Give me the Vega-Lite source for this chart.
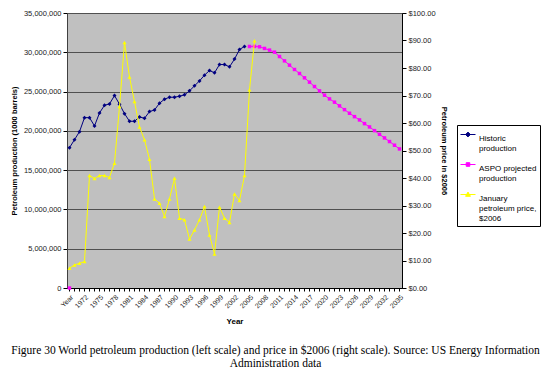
{
  "$schema": "https://vega.github.io/schema/vega-lite/v6.json",
  "width": 335,
  "height": 275,
  "autosize": {"type": "none"},
  "padding": {"left": 67, "top": 13, "right": 148, "bottom": 86},
  "background": "white",
  "config": {
    "font": "Liberation Sans",
    "view": {"fill": "#C0C0C0", "stroke": "#808080", "strokeWidth": 1},
    "axis": {"labelFont": "Liberation Sans", "titleFont": "Liberation Sans", "labelColor": "#222", "titleColor": "#000", "domainColor": "#000", "tickColor": "#000"}
  },
  "title": {
    "text": ["Figure 30 World petroleum production (left scale) and price in $2006 (right scale).  Source: US Energy Information", "Administration data"],
    "orient": "bottom", "anchor": "middle", "font": "Liberation Serif", "fontSize": 11.5, "fontWeight": "normal", "lineHeight": 13, "dx": 41, "offset": 19, "color": "#000"
  },
  "data": {"values": [
    {"cat": "Year", "series": "Historic production", "seg": "h", "v": 17860000},
    {"cat": "1970", "series": "Historic production", "seg": "h", "v": 18880000},
    {"cat": "1971", "series": "Historic production", "seg": "h", "v": 19900000},
    {"cat": "1972", "series": "Historic production", "seg": "h", "v": 21680000},
    {"cat": "1973", "series": "Historic production", "seg": "h", "v": 21680000},
    {"cat": "1974", "series": "Historic production", "seg": "h", "v": 20630000},
    {"cat": "1975", "series": "Historic production", "seg": "h", "v": 22280000},
    {"cat": "1976", "series": "Historic production", "seg": "h", "v": 23260000},
    {"cat": "1977", "series": "Historic production", "seg": "h", "v": 23430000},
    {"cat": "1978", "series": "Historic production", "seg": "h", "v": 24490000},
    {"cat": "1979", "series": "Historic production", "seg": "h", "v": 23390000},
    {"cat": "1980", "series": "Historic production", "seg": "h", "v": 22190000},
    {"cat": "1981", "series": "Historic production", "seg": "h", "v": 21220000},
    {"cat": "1982", "series": "Historic production", "seg": "h", "v": 21220000},
    {"cat": "1983", "series": "Historic production", "seg": "h", "v": 21770000},
    {"cat": "1984", "series": "Historic production", "seg": "h", "v": 21600000},
    {"cat": "1985", "series": "Historic production", "seg": "h", "v": 22450000},
    {"cat": "1986", "series": "Historic production", "seg": "h", "v": 22660000},
    {"cat": "1987", "series": "Historic production", "seg": "h", "v": 23520000},
    {"cat": "1988", "series": "Historic production", "seg": "h", "v": 24030000},
    {"cat": "1989", "series": "Historic production", "seg": "h", "v": 24280000},
    {"cat": "1990", "series": "Historic production", "seg": "h", "v": 24280000},
    {"cat": "1991", "series": "Historic production", "seg": "h", "v": 24410000},
    {"cat": "1992", "series": "Historic production", "seg": "h", "v": 24580000},
    {"cat": "1993", "series": "Historic production", "seg": "h", "v": 25090000},
    {"cat": "1994", "series": "Historic production", "seg": "h", "v": 25730000},
    {"cat": "1995", "series": "Historic production", "seg": "h", "v": 26360000},
    {"cat": "1996", "series": "Historic production", "seg": "h", "v": 27090000},
    {"cat": "1997", "series": "Historic production", "seg": "h", "v": 27680000},
    {"cat": "1998", "series": "Historic production", "seg": "h", "v": 27390000},
    {"cat": "1999", "series": "Historic production", "seg": "h", "v": 28440000},
    {"cat": "2000", "series": "Historic production", "seg": "h", "v": 28440000},
    {"cat": "2001", "series": "Historic production", "seg": "h", "v": 28150000},
    {"cat": "2002", "series": "Historic production", "seg": "h", "v": 29130000},
    {"cat": "2003", "series": "Historic production", "seg": "h", "v": 30360000},
    {"cat": "2004", "series": "Historic production", "seg": "h", "v": 30740000},
    {"cat": "Year", "series": "ASPO projected production", "seg": "p0", "v": 0},
    {"cat": "2005", "series": "ASPO projected production", "seg": "p1", "v": 30740000},
    {"cat": "2006", "series": "ASPO projected production", "seg": "p1", "v": 30750000},
    {"cat": "2007", "series": "ASPO projected production", "seg": "p1", "v": 30700000},
    {"cat": "2008", "series": "ASPO projected production", "seg": "p1", "v": 30490000},
    {"cat": "2009", "series": "ASPO projected production", "seg": "p1", "v": 30280000},
    {"cat": "2010", "series": "ASPO projected production", "seg": "p1", "v": 30020000},
    {"cat": "2011", "series": "ASPO projected production", "seg": "p1", "v": 29460000},
    {"cat": "2012", "series": "ASPO projected production", "seg": "p1", "v": 28910000},
    {"cat": "2013", "series": "ASPO projected production", "seg": "p1", "v": 28360000},
    {"cat": "2014", "series": "ASPO projected production", "seg": "p1", "v": 27810000},
    {"cat": "2015", "series": "ASPO projected production", "seg": "p1", "v": 27300000},
    {"cat": "2016", "series": "ASPO projected production", "seg": "p1", "v": 26750000},
    {"cat": "2017", "series": "ASPO projected production", "seg": "p1", "v": 26200000},
    {"cat": "2018", "series": "ASPO projected production", "seg": "p1", "v": 25640000},
    {"cat": "2019", "series": "ASPO projected production", "seg": "p1", "v": 25090000},
    {"cat": "2020", "series": "ASPO projected production", "seg": "p1", "v": 24540000},
    {"cat": "2021", "series": "ASPO projected production", "seg": "p1", "v": 24070000},
    {"cat": "2022", "series": "ASPO projected production", "seg": "p1", "v": 23650000},
    {"cat": "2023", "series": "ASPO projected production", "seg": "p1", "v": 23180000},
    {"cat": "2024", "series": "ASPO projected production", "seg": "p1", "v": 22700000},
    {"cat": "2025", "series": "ASPO projected production", "seg": "p1", "v": 22240000},
    {"cat": "2026", "series": "ASPO projected production", "seg": "p1", "v": 21810000},
    {"cat": "2027", "series": "ASPO projected production", "seg": "p1", "v": 21390000},
    {"cat": "2028", "series": "ASPO projected production", "seg": "p1", "v": 20920000},
    {"cat": "2029", "series": "ASPO projected production", "seg": "p1", "v": 20500000},
    {"cat": "2030", "series": "ASPO projected production", "seg": "p1", "v": 20030000},
    {"cat": "2031", "series": "ASPO projected production", "seg": "p1", "v": 19560000},
    {"cat": "2032", "series": "ASPO projected production", "seg": "p1", "v": 19100000},
    {"cat": "2033", "series": "ASPO projected production", "seg": "p1", "v": 18640000},
    {"cat": "2034", "series": "ASPO projected production", "seg": "p1", "v": 18170000},
    {"cat": "2035", "series": "ASPO projected production", "seg": "p1", "v": 17700000},
    {"cat": "Year", "series": "January petroleum price, $2006", "seg": "y", "v": 7.2},
    {"cat": "1970", "series": "January petroleum price, $2006", "seg": "y", "v": 8.4},
    {"cat": "1971", "series": "January petroleum price, $2006", "seg": "y", "v": 9.0},
    {"cat": "1972", "series": "January petroleum price, $2006", "seg": "y", "v": 9.6},
    {"cat": "1973", "series": "January petroleum price, $2006", "seg": "y", "v": 40.9},
    {"cat": "1974", "series": "January petroleum price, $2006", "seg": "y", "v": 39.8},
    {"cat": "1975", "series": "January petroleum price, $2006", "seg": "y", "v": 40.9},
    {"cat": "1976", "series": "January petroleum price, $2006", "seg": "y", "v": 40.9},
    {"cat": "1977", "series": "January petroleum price, $2006", "seg": "y", "v": 40.2},
    {"cat": "1978", "series": "January petroleum price, $2006", "seg": "y", "v": 45.4},
    {"cat": "1979", "series": "January petroleum price, $2006", "seg": "y", "v": 66.0},
    {"cat": "1980", "series": "January petroleum price, $2006", "seg": "y", "v": 89.3},
    {"cat": "1981", "series": "January petroleum price, $2006", "seg": "y", "v": 76.7},
    {"cat": "1982", "series": "January petroleum price, $2006", "seg": "y", "v": 67.8},
    {"cat": "1983", "series": "January petroleum price, $2006", "seg": "y", "v": 58.5},
    {"cat": "1984", "series": "January petroleum price, $2006", "seg": "y", "v": 53.9},
    {"cat": "1985", "series": "January petroleum price, $2006", "seg": "y", "v": 46.8},
    {"cat": "1986", "series": "January petroleum price, $2006", "seg": "y", "v": 32.4},
    {"cat": "1987", "series": "January petroleum price, $2006", "seg": "y", "v": 30.8},
    {"cat": "1988", "series": "January petroleum price, $2006", "seg": "y", "v": 26.0},
    {"cat": "1989", "series": "January petroleum price, $2006", "seg": "y", "v": 32.4},
    {"cat": "1990", "series": "January petroleum price, $2006", "seg": "y", "v": 39.9},
    {"cat": "1991", "series": "January petroleum price, $2006", "seg": "y", "v": 25.4},
    {"cat": "1992", "series": "January petroleum price, $2006", "seg": "y", "v": 24.8},
    {"cat": "1993", "series": "January petroleum price, $2006", "seg": "y", "v": 17.8},
    {"cat": "1994", "series": "January petroleum price, $2006", "seg": "y", "v": 21.1},
    {"cat": "1995", "series": "January petroleum price, $2006", "seg": "y", "v": 24.8},
    {"cat": "1996", "series": "January petroleum price, $2006", "seg": "y", "v": 29.6},
    {"cat": "1997", "series": "January petroleum price, $2006", "seg": "y", "v": 19.3},
    {"cat": "1998", "series": "January petroleum price, $2006", "seg": "y", "v": 12.4},
    {"cat": "1999", "series": "January petroleum price, $2006", "seg": "y", "v": 29.4},
    {"cat": "2000", "series": "January petroleum price, $2006", "seg": "y", "v": 25.4},
    {"cat": "2001", "series": "January petroleum price, $2006", "seg": "y", "v": 23.8},
    {"cat": "2002", "series": "January petroleum price, $2006", "seg": "y", "v": 34.2},
    {"cat": "2003", "series": "January petroleum price, $2006", "seg": "y", "v": 31.8},
    {"cat": "2004", "series": "January petroleum price, $2006", "seg": "y", "v": 40.9},
    {"cat": "2005", "series": "January petroleum price, $2006", "seg": "y", "v": 72.1},
    {"cat": "2006", "series": "January petroleum price, $2006", "seg": "y", "v": 89.9}
  ]},
  "encoding": {
    "x": {
      "field": "cat", "type": "ordinal",
      "scale": {"type": "band", "paddingInner": 0, "paddingOuter": 0,
        "domain": ["Year","1970","1971","1972","1973","1974","1975","1976","1977","1978","1979","1980","1981","1982","1983","1984","1985","1986","1987","1988","1989","1990","1991","1992","1993","1994","1995","1996","1997","1998","1999","2000","2001","2002","2003","2004","2005","2006","2007","2008","2009","2010","2011","2012","2013","2014","2015","2016","2017","2018","2019","2020","2021","2022","2023","2024","2025","2026","2027","2028","2029","2030","2031","2032","2033","2034","2035"]},
      "axis": {
        "title": "Year", "titleFontSize": 8, "titleFontWeight": "bold", "titlePadding": 9,
        "labelAngle": -45, "labelFontSize": 7, "labelPadding": 2, "tickSize": 3,
        "labelExpr": "datum.value == 'Year' || (toNumber(datum.value) - 1972) % 3 == 0 ? datum.value : ''",
        "labelOverlap": false, "grid": false
      }
    },
    "color": {
      "field": "series", "type": "nominal",
      "scale": {"domain": ["Historic production", "ASPO projected production", "January petroleum price, $2006"], "range": ["#000080", "#FF00FF", "#FFFF00"]},
      "legend": {
        "title": null, "orient": "none", "legendX": 390, "legendY": 112,
        "strokeColor": "#000", "fillColor": "#FFFFFF", "padding": 3,
        "labelFontSize": 8, "labelColor": "#000", "labelBaseline": "top", "labelOffset": 6,
        "symbolSize": 144, "symbolStrokeWidth": 1, "rowPadding": 5,
        "labelExpr": "datum.label == 'Historic production' ? ['Historic', 'production'] : datum.label == 'ASPO projected production' ? ['ASPO projected', 'production'] : ['January', 'petroleum price,', '$2006']",
        "encode": {
          "symbols": {"update": {"stroke": {"scale": "color", "field": "value"}, "fill": {"scale": "color", "field": "value"}, "strokeWidth": {"value": 1}}},
          "labels": {"update": {"lineHeight": {"value": 10}}}
        }
      }
    }
  },
  "layer": [
    {
      "transform": [{"filter": "datum.series != 'January petroleum price, $2006'"}],
      "encoding": {
        "y": {
          "field": "v", "type": "quantitative",
          "scale": {"domain": [0, 35000000]},
          "axis": {
            "title": "Petroleum production (1000 barrels)", "titleFontSize": 7.5, "titleFontWeight": "bold", "titlePadding": 5,
            "values": [0, 5000000, 10000000, 15000000, 20000000, 25000000, 30000000, 35000000],
            "format": ",.0f", "labelFontSize": 7.5, "tickSize": 4, "labelPadding": 2,
            "grid": true, "gridColor": "#505050", "gridWidth": 1, "domainColor": "#404040"
          }
        }
      },
      "layer": [
        {"mark": {"type": "line", "strokeWidth": 1}, "encoding": {"detail": {"field": "seg"}}},
        {"transform": [{"filter": "datum.series == 'Historic production'"}], "mark": {"type": "point", "shape": "diamond", "filled": true, "size": 16, "opacity": 1}},
        {"transform": [{"filter": "datum.series == 'ASPO projected production'"}], "mark": {"type": "point", "shape": "square", "filled": true, "size": 12, "opacity": 1}},
        {
          "transform": [{"filter": "datum.v < -1"}],
          "mark": {"type": "point", "filled": true, "opacity": 1},
          "encoding": {
            "shape": {"field": "series", "type": "nominal",
              "scale": {"domain": ["Historic production", "ASPO projected production", "January petroleum price, $2006"],
                "range": ["M-1,0L1.5,0M0.25,-0.4L0.65,0L0.25,0.4L-0.15,0Z", "M-1,0L1.5,0M-0.05,-0.3L0.55,-0.3L0.55,0.3L-0.05,0.3Z", "M-1,0L1.5,0M0.25,-0.4L0.65,0.3L-0.15,0.3Z"]}}
          }
        }
      ]
    },
    {
      "transform": [{"filter": "datum.series == 'January petroleum price, $2006'"}],
      "encoding": {
        "y": {
          "field": "v", "type": "quantitative",
          "scale": {"domain": [0, 100]},
          "axis": {
            "orient": "right", "title": "Petroleum price in $2006", "titleFontSize": 7.5, "titleFontWeight": "bold", "titlePadding": 4,
            "values": [0, 10, 20, 30, 40, 50, 60, 70, 80, 90, 100],
            "format": "$,.2f", "labelFontSize": 7.5, "tickSize": 4, "labelPadding": 2, "grid": false
          }
        }
      },
      "layer": [
        {"mark": {"type": "line", "strokeWidth": 1}},
        {"mark": {"type": "point", "shape": "triangle-up", "filled": true, "size": 16, "opacity": 1}}
      ]
    }
  ],
  "resolve": {"scale": {"y": "independent"}}
}
